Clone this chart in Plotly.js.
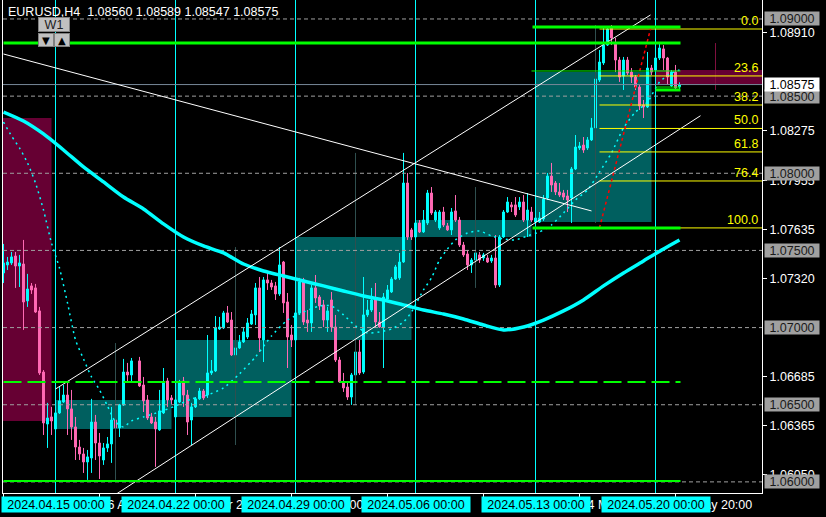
<!DOCTYPE html>
<html><head><meta charset="utf-8">
<script src="https://cdn.plot.ly/plotly-3.0.1.min.js"></script>
<style>html,body{margin:0;padding:0;background:#000;}#chart{width:826px;height:517px;}</style>
</head><body><div id="chart"></div>
<script>
// ---------------- DATA ----------------
const symbol = 'EURUSD,H4';
const firstBarIndex = -13;   // bar 0 = 2024.04.15 00:00 (H4 bars)
const open = [1.07354,1.07406,1.07419,1.07464,1.07399,1.07412,1.07173,1.07270,1.07257,1.07108,1.06712,1.06375,1.06421,
 1.06343,1.06447,1.06518,1.06563,1.06473,1.06356,1.06226,1.06181,1.06129,1.06155,1.06388,1.06252,1.06142,1.06220,1.06246,1.06401,1.06350,1.06499,1.06712,1.06693,null,1.06784,1.06628,1.06531,1.06421,1.06388,1.06337,1.06447,1.06654,1.06544,
 1.06421,1.06518,1.06654,1.06563,1.06401,1.06486,1.06538,1.06589,1.06563,1.06706,1.06719,1.06991,1.06998,1.07095,1.07049,1.06823,1.06868,1.06907,1.06939,1.07023,1.07082,1.07257,1.06920,1.07309,1.07289,1.07270,1.07218,1.07425,1.07166,1.06952,
 1.06920,1.07095,1.07309,1.07049,1.07030,1.07257,1.07198,1.07147,1.07049,1.07179,1.07004,1.06790,1.06648,1.06615,1.06550,1.06693,1.06842,1.06712,1.07082,1.07114,1.07179,1.07036,1.07004,1.07185,1.07231,1.07315,1.07322,1.07425,1.07937,1.07633,
 1.07587,1.07678,1.07620,1.07678,1.07872,1.07697,1.07646,1.07749,1.07659,1.07633,1.07756,1.07697,1.07535,1.07477,1.07406,1.07438,1.07471,1.07451,1.07451,1.07432,1.07451,1.07276,1.07587,1.07749,1.07795,1.07795,1.07782,1.07814,1.07697,1.07749,
 1.07684,1.07684,1.07704,1.07840,1.07982,1.07937,1.07879,1.07872,1.07853,1.07840,1.08028,1.08164,1.08183,1.08164,1.08216,1.08294,1.08605,1.08715,1.08831,1.08942,1.08844,1.08734,1.08630,1.08734,1.08656,1.08624,1.08559,1.08443,1.08430,1.08682,
 1.08669,1.08747,1.08806,1.08747,1.08566,1.08656,1.08560];
const high = [1.07542,1.07458,1.07490,1.07490,1.07471,1.07568,1.07348,1.07289,1.07283,1.07134,1.06725,1.06512,1.06486,
 1.06512,1.06615,1.06628,1.06641,1.06596,1.06421,1.06272,1.06220,1.06207,1.06538,1.06434,1.06317,1.06252,1.06291,1.06486,1.06447,1.06505,1.06797,1.06771,1.06803,null,1.06810,1.06680,1.06563,1.06447,1.06421,1.06596,1.06738,1.06674,1.06563,
 1.06576,1.06661,1.06680,1.06596,1.06512,1.06550,1.06609,1.06602,1.06952,1.06790,1.07075,1.07069,1.07108,1.07140,1.07101,1.06907,1.06952,1.07004,1.07062,1.07114,1.07289,1.07328,1.07328,1.07360,1.07309,1.07296,1.07522,1.07432,1.07224,1.07017,
 1.07127,1.07322,1.07322,1.07114,1.07276,1.07341,1.07211,1.07179,1.07134,1.07231,1.07082,1.06810,1.06706,1.06648,1.06706,1.06855,1.06920,1.07328,1.07179,1.07257,1.07289,1.07101,1.07224,1.07276,1.07328,1.07406,1.07484,1.08132,1.08002,1.07646,
 1.07697,1.07697,1.07762,1.07892,1.07911,1.07762,1.07762,1.07782,1.07678,1.07775,1.07859,1.07717,1.07555,1.07503,1.07451,1.07490,1.07490,1.07484,1.07471,1.07471,1.07600,1.07600,1.07762,1.07846,1.07814,1.07846,1.07846,1.07859,1.07872,1.07782,
 1.07730,1.07749,1.07859,1.08002,1.08067,1.07950,1.07937,1.07892,1.07892,1.08041,1.08248,1.08203,1.08235,1.08235,1.08358,1.08721,1.08799,1.08942,1.08948,1.08961,1.08877,1.08754,1.08754,1.08754,1.08682,1.08637,1.08572,1.08475,1.08786,1.08702,
 1.08844,1.08844,1.08831,1.08754,1.08669,1.08702,1.08589];
const low = [1.07289,1.07373,1.07406,1.07257,1.07263,1.06985,1.07134,1.07218,1.07095,1.06693,1.06304,1.06220,1.06304,
 1.06337,1.06440,1.06512,1.06304,1.06272,1.06142,1.06142,1.06058,1.06013,1.06058,1.06142,1.06019,1.06110,1.06194,1.06123,1.06291,1.06291,1.06492,1.06648,1.06648,null,1.06615,1.06453,1.06401,1.06375,1.06097,1.06330,1.06440,1.06486,1.06505,
 1.06414,1.06512,1.06486,1.06304,1.06239,1.06479,1.06531,1.06531,1.06544,1.06693,1.06712,1.06985,1.06991,1.07030,1.06816,1.06771,1.06862,1.06900,1.06926,1.07017,1.07017,1.06842,1.06777,1.07244,1.07244,1.07179,1.07205,1.07095,1.06738,1.06874,
 1.06900,1.07082,1.07017,1.06972,1.06972,1.07160,1.07114,1.07004,1.06972,1.06972,1.06777,1.06641,1.06583,1.06531,1.06499,1.06686,1.06693,1.06700,1.07069,1.07101,1.06998,1.06998,1.06738,1.07166,1.07224,1.07309,1.07309,1.07419,1.07568,1.07568,
 1.07581,1.07613,1.07613,1.07665,1.07730,1.07684,1.07633,1.07652,1.07626,1.07600,1.07684,1.07522,1.07458,1.07373,1.07354,1.07386,1.07419,1.07432,1.07419,1.07419,1.07257,1.07263,1.07581,1.07743,1.07749,1.07717,1.07762,1.07684,1.07587,1.07684,
 1.07678,1.07678,1.07691,1.07827,1.07879,1.07859,1.07846,1.07827,1.07749,1.07678,1.08021,1.08151,1.08132,1.08151,1.08209,1.08281,1.08592,1.08702,1.08825,1.08831,1.08656,1.08592,1.08540,1.08637,1.08585,1.08540,1.08410,1.08358,1.08423,1.08637,
 1.08656,1.08734,1.08669,1.08572,1.08559,1.08540,1.08547];
const close = [1.07419,1.07425,1.07458,1.07399,1.07419,1.07166,1.07250,1.07244,1.07101,1.06706,1.06382,1.06414,1.06395,
 1.06447,1.06525,1.06563,1.06473,1.06356,1.06226,1.06181,1.06129,1.06162,1.06388,1.06252,1.06168,1.06220,1.06246,1.06401,1.06350,1.06499,1.06712,1.06693,1.06784,null,1.06622,1.06525,1.06414,1.06382,1.06343,1.06460,1.06648,1.06531,1.06531,
 1.06531,1.06648,1.06563,1.06388,1.06486,1.06538,1.06589,1.06544,1.06706,1.06719,1.06998,1.07004,1.07095,1.07036,1.06823,1.06868,1.06907,1.06972,1.07030,1.07088,1.07257,1.06933,1.07309,1.07289,1.07263,1.07218,1.07406,1.07160,1.06939,1.06920,
 1.07095,1.07296,1.07036,1.07030,1.07257,1.07192,1.07140,1.07049,1.07108,1.07004,1.06790,1.06648,1.06609,1.06550,1.06693,1.06842,1.06706,1.07082,1.07114,1.07179,1.07036,1.07004,1.07198,1.07244,1.07315,1.07393,1.07425,1.07937,1.07587,1.07587,
 1.07678,1.07620,1.07697,1.07872,1.07743,1.07749,1.07749,1.07665,1.07633,1.07749,1.07697,1.07535,1.07471,1.07406,1.07438,1.07484,1.07438,1.07471,1.07425,1.07451,1.07276,1.07587,1.07749,1.07814,1.07782,1.07730,1.07814,1.07697,1.07762,1.07697,
 1.07710,1.07710,1.07833,1.07982,1.07924,1.07879,1.07859,1.07846,1.07827,1.08028,1.08170,1.08177,1.08151,1.08216,1.08294,1.08611,1.08721,1.08831,1.08935,1.08877,1.08734,1.08624,1.08734,1.08650,1.08624,1.08559,1.08436,1.08430,1.08682,1.08656,
 1.08747,1.08812,1.08747,1.08624,1.08656,1.08553,1.08575];

// weekly (W1) bars shown as boxes behind the H4 candles
const weekStartIdx = [-30, 0, 30, 60, 90, 120, 150];
const weekLabels = ['2024.04.08 00:00','2024.04.15 00:00','2024.04.22 00:00','2024.04.29 00:00','2024.05.06 00:00','2024.05.13 00:00','2024.05.20 00:00'];
const weekOpen  = [1.08358, 1.06343, 1.06421, 1.06920, 1.07587, 1.07684, 1.08669];
const weekHigh  = [1.08380, 1.06900, 1.07522, 1.08132, 1.07911, 1.08961, 1.08844];
const weekLow   = [1.06304, 1.06013, 1.06239, 1.06499, 1.07257, 1.07678, 1.08540];
const weekClose = [1.06395, 1.06531, 1.06920, 1.07587, 1.07697, 1.08656, 1.08575];

// slow moving average (thick) sampled at bar indices
const maSlowIdx = [-13,-8,-3,2,7,12,17,22,27,32,37,42,47,52,57,62,67,72,77,82,87,92,97,102,107,112,117,122,127,132,137,142,147,152,156];
const maSlow = [1.08397,1.08339,1.08255,1.08151,1.08041,1.07944,1.07846,1.07769,1.07672,1.07587,1.07529,1.07484,1.07412,1.07367,1.07334,1.07302,1.07270,1.07237,1.07205,1.07179,1.07147,1.07114,1.07088,1.07056,1.07017,1.06985,1.07004,1.07049,1.07108,1.07179,1.07270,1.07354,1.07432,1.07510,1.07568];
// fast moving average (dotted)
const maFastIdx = [-13,-11,-9,-7,-5,-3,-1,1,3,5,7,9,11,13,15,17,19,22,26,30,34,38,42,46,50,54,58,62,66,69,72,75,78,81,84,87,89,92,94,96,98,100,103,106,109,112,115,118,121,124,127,130,133,136,139,142,145,148,151,154,156];
const maFast = [1.08332,1.08242,1.08164,1.08067,1.07937,1.07762,1.07548,1.07386,1.07160,1.06920,1.06797,1.06680,1.06596,1.06492,1.06388,1.06356,1.06395,1.06421,1.06453,1.06492,1.06538,1.06563,1.06609,1.06700,1.06810,1.06946,1.07049,1.07101,1.07140,1.07140,1.07082,1.07011,1.06965,1.06972,1.06991,1.07036,1.07101,1.07244,1.07322,1.07438,1.07510,1.07568,1.07613,1.07626,1.07594,1.07574,1.07568,1.07594,1.07620,1.07665,1.07743,1.07827,1.07892,1.08008,1.08132,1.08294,1.08397,1.08462,1.08592,1.08650,1.08669];

// levels and objects
const roundLevels = [1.06, 1.065, 1.07, 1.075, 1.08, 1.085, 1.09];
const yTickVals = [1.0891, 1.08275, 1.07955, 1.07635, 1.0732, 1.06685, 1.06365, 1.0605];
const xTickIdx = [-13, 11, 35, 59, 83, 107, 131, 155];
const xTickText = ['10 Apr 20:00','16 Apr 20:00','22 Apr 20:00','26 Apr 20:00','2 May 20:00','8 May 20:00','14 May 20:00','20 May 20:00'];
const fibLevels = [0, 23.6, 38.2, 50, 61.8, 76.4, 100];
const fibIdx = [136, 148.75];
const fibPrice = [1.07646, 1.08935];   // 100% , 0%
const trendUpper = {idx: [0, 148.75], price: [1.06602, 1.09026]};
const trendLower = {idx: [15, 161.25], price: [1.05918, 1.08373]};
const trendDesc  = {idx: [-13, 134], price: [1.08773, 1.07756]};
const greenLevel = [1.08844, 1.08948, 1.07646, 1.08663, 1.06648, 1.06006, 1.08559, 1.08540];
const greenFrom  = [-13, 119.25, 119.25, 119, -13, -13, 150, 150];
const greenTo    = [156.25, 156.25, 156.25, 156.25, 156.25, 156.25, 156.25, 156.25];

// ---------------- STYLE ----------------
const FONT = 'Liberation Sans, Arial, sans-serif';
const FS = 12.5;
const CYAN = '#00ffff', PINK = '#ff69b4', TEAL = '#005f5f', MAROON = '#660033';
const greenStyle = [[3,'solid'],[3,'solid'],[3,'solid'],[1,'solid'],[2,'18px,6px'],[2,'solid'],[1,'solid'],[3,'solid']];
const XR = [-13.125, 176.625];

const idx = open.map((_, k) => firstBarIndex + k);
const last = open.length - 1;
const fmt = v => v.toFixed(5);

// ---------------- TRACES ----------------
const traces = [];
const bullW = weekOpen.map((o,k)=>weekClose[k] >= o);
function wickTrace(sel, color){
  const x=[], y=[];
  weekStartIdx.forEach((s,k)=>{ if(sel(k)){ x.push(s+15, s+15, null); y.push(weekLow[k], weekHigh[k], null);} });
  return {type:'scatter', mode:'lines', x, y, line:{color, width:1}, hoverinfo:'skip'};
}
traces.push(wickTrace(k=>bullW[k], '#2f4f4f'));
traces.push(wickTrace(k=>!bullW[k], '#80103f'));
traces.push({type:'bar', x: weekStartIdx.map(s=>s+14.5), base: weekOpen, y: weekOpen.map((o,k)=>weekClose[k]-o),
  width: weekStartIdx.map(()=>29), marker:{color: bullW.map(b=>b?TEAL:MAROON), line:{width:0}}, hoverinfo:'skip'});
(function(){
  const x=[], y=[];
  roundLevels.forEach(l=>{ x.push(XR[0], XR[1], null); y.push(l, l, null); });
  traces.push({type:'scatter', mode:'lines', x, y, line:{color:'#a0a0a0', width:1, dash:'4px,3px'}, hoverinfo:'skip'});
})();
(function(){
  const x=[], y=[];
  weekStartIdx.forEach(s=>{ x.push(s, s, null); y.push(1.0, 1.2, null); });
  traces.push({type:'scatter', mode:'lines', x, y, line:{color:CYAN, width:1}, hoverinfo:'skip'});
})();
traces.push({type:'scatter', mode:'lines', x: XR, y:[close[last], close[last]], line:{color:'#778899', width:1}, hoverinfo:'skip'});
traces.push({type:'candlestick', x: idx, open, high, low, close,
  increasing:{line:{color:CYAN, width:1}, fillcolor:CYAN},
  decreasing:{line:{color:PINK, width:1}, fillcolor:PINK},
  whiskerwidth:0, hoverinfo:'skip'});
traces.push({type:'scatter', mode:'lines', x: maSlowIdx, y: maSlow, line:{color:CYAN, width:3.5, shape:'spline', smoothing:0.6}, hoverinfo:'skip'});
traces.push({type:'scatter', mode:'lines', x: maFastIdx, y: maFast, line:{color:CYAN, width:1.5, dash:'2px,4px', shape:'spline', smoothing:0.6}, hoverinfo:'skip'});

// ---------------- SHAPES ----------------
const shapes = [];
[trendUpper, trendLower, trendDesc].forEach(t=>{
  shapes.push({type:'line', xref:'x', yref:'y', x0:t.idx[0], y0:t.price[0], x1:t.idx[1], y1:t.price[1], line:{color:'#ffffff', width:1}, layer:'above'});
});
const fibHi = fibPrice[1], fibLo = fibPrice[0];
const fibPrices = fibLevels.map(f => fibHi - (fibHi - fibLo) * f / 100);
fibPrices.forEach(p=>{
  shapes.push({type:'line', xref:'x', yref:'y', x0:fibIdx[0], x1:XR[1], y0:p, y1:p, line:{color:'#ffff00', width:1}, layer:'above'});
});
shapes.push({type:'line', xref:'x', yref:'y', x0:fibIdx[0], y0:fibPrice[0], x1:fibIdx[1], y1:fibPrice[1], line:{color:'#ff0000', width:1.5, dash:'dot'}, layer:'above'});
greenLevel.forEach((l,k)=>{
  shapes.push({type:'line', xref:'x', yref:'y', x0:greenFrom[k], x1:greenTo[k], y0:l, y1:l, line:{color:'#00ff00', width:greenStyle[k][0], dash:greenStyle[k][1]}, layer:'above'});
});

// ---------------- ANNOTATIONS ----------------
const ann = [];
ann.push({xref:'paper', yref:'paper', x:0, y:1, xanchor:'left', yanchor:'top', xshift:3, yshift:-3, showarrow:false,
  text: symbol + '  ' + [open[last], high[last], low[last], close[last]].map(fmt).join(' '), font:{family:FONT, size:FS, color:'#ffffff'}});
ann.push({xref:'paper', yref:'paper', x:(54-3)/759, y:1-24.5/493, xanchor:'center', yanchor:'middle', showarrow:false, text:'W1',
  width:30, height:13, bgcolor:'#c0c0c0', bordercolor:'#808080', borderwidth:1, borderpad:0, font:{family:FONT, size:FS, color:'#202020'}});
ann.push({xref:'paper', yref:'paper', x:(46-3)/759, y:1-40/493, xanchor:'center', yanchor:'middle', showarrow:false, text:'▼',
  width:14, height:12, bgcolor:'#c0c0c0', bordercolor:'#808080', borderwidth:1, borderpad:0, font:{family:'DejaVu Sans', size:10, color:'#000'}});
ann.push({xref:'paper', yref:'paper', x:(62-3)/759, y:1-40/493, xanchor:'center', yanchor:'middle', showarrow:false, text:'▲',
  width:14, height:12, bgcolor:'#c0c0c0', bordercolor:'#808080', borderwidth:1, borderpad:0, font:{family:'DejaVu Sans', size:10, color:'#000'}});
fibLevels.forEach((f,k)=>{
  ann.push({xref:'paper', yref:'y', x:1, y:fibPrices[k], xanchor:'right', yanchor:'bottom', xshift:-2, yshift:-1, showarrow:false,
    text: f.toFixed(1), font:{family:FONT, size:FS, color:'#ffff00'}});
});
roundLevels.forEach(l=>{
  ann.push({xref:'paper', yref:'y', x:1, y:l, xanchor:'left', yanchor:'middle', xshift:2, showarrow:false, text: fmt(l),
    width:54, height:13, bgcolor:'#a0a0a0', borderpad:0, font:{family:FONT, size:FS, color:'#1a1a1a'}});
});
ann.push({xref:'paper', yref:'y', x:1, y:close[last], xanchor:'left', yanchor:'middle', xshift:2, showarrow:false, text: fmt(close[last]),
  width:54, height:13, bgcolor:'#ffffff', borderpad:0, font:{family:FONT, size:FS, color:'#000000'}});
weekStartIdx.forEach((s,k)=>{
  if (s < XR[0]) return;
  ann.push({xref:'x', yref:'paper', x:s, y:0, xanchor:'center', yanchor:'top', yshift:-3, showarrow:false, text: weekLabels[k],
    width:108, height:15, bgcolor:CYAN, borderpad:0, font:{family:FONT, size:FS, color:'#000000'}});
});

const layout = {
  width: 826, height: 517,
  margin: {l:3, r:64, t:0, b:24},
  paper_bgcolor:'#000000', plot_bgcolor:'#000000',
  showlegend:false, hovermode:false, barmode:'overlay',
  font:{family:FONT, size:FS, color:'#ffffff'},
  xaxis:{range:XR, type:'linear', showgrid:false, zeroline:false, showline:true, linecolor:'#ffffff', linewidth:1, mirror:true,
    ticks:'outside', ticklen:4, tickcolor:'#ffffff', tickvals:xTickIdx, ticktext:xTickText, ticklabelposition:'outside right',
    tickfont:{family:FONT, size:FS, color:'#ffffff'}, rangeslider:{visible:false}, fixedrange:true},
  yaxis:{range:[1.05928, 1.09123], side:'right', showgrid:false, zeroline:false, showline:true, linecolor:'#ffffff', linewidth:1, mirror:true,
    ticks:'outside', ticklen:4, tickcolor:'#ffffff', tickvals:yTickVals, ticktext:yTickVals.map(fmt),
    tickfont:{family:FONT, size:FS, color:'#ffffff'}, fixedrange:true},
  shapes, annotations: ann
};
Plotly.newPlot('chart', traces, layout, {staticPlot:true, displayModeBar:false});
</script></body></html>
